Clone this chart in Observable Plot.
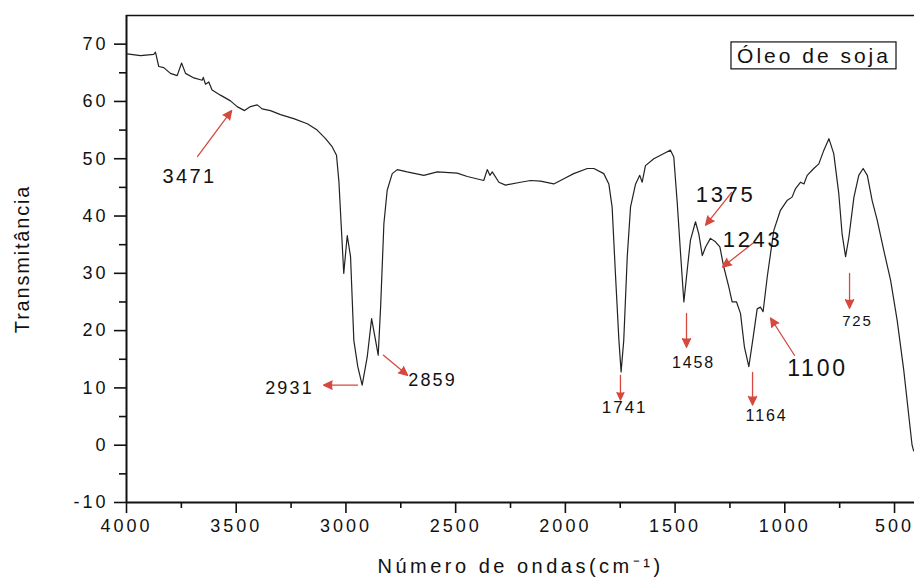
<!DOCTYPE html>
<html><head><meta charset="utf-8">
<script src="https://cdn.jsdelivr.net/npm/d3@7"></script>
<script src="https://cdn.jsdelivr.net/npm/@observablehq/plot@0.6"></script>
<style>
html,body{margin:0;padding:0;background:#fff;}
#chart svg{display:block;}
</style>
</head><body><div id="chart"></div>
<script>
// Spectrum (wavenumber in cm-1, transmittance)
const wavenumber = [3997,3936,3876,3868,3853,3830,3800,3769,3749,3731,3693,3655,3650,3640,3625,3610,3572,3526,3496,3462,3435,3404,3382,3344,3298,3238,3176,3131,3093,3063,3043,3032,3022,3010,2994,2979,2964,2946,2926,2903,2883,2865,2853,2842,2827,2812,2789,2766,2721,2645,2584,2493,2447,2372,2356,2344,2333,2303,2273,2204,2159,2113,2053,2007,1962,1900,1870,1825,1802,1787,1772,1756,1746,1734,1718,1703,1680,1661,1650,1635,1597,1551,1521,1506,1490,1475,1460,1445,1430,1407,1392,1376,1361,1339,1316,1296,1278,1255,1240,1220,1202,1184,1164,1144,1126,1111,1099,1080,1050,1020,990,967,951,928,913,898,868,845,822,799,777,754,739,723,708,685,663,643,624,602,579,549,518,488,458,436,420,413];
const transmittance = [68.3,68.0,68.2,68.6,66.1,65.9,64.9,64.5,66.7,64.9,64.1,63.7,64.2,63.0,63.4,62.0,61.1,60.1,59.1,58.4,59.1,59.4,58.7,58.4,57.7,57.0,56.1,55.0,53.5,52.1,50.6,46.0,38.7,30.0,36.6,32.9,18.3,13.7,10.5,15.4,22.1,18.3,15.7,24.1,38.7,44.5,47.4,48.1,47.7,47.1,47.7,47.5,46.9,46.2,48.1,47.1,47.7,45.9,45.4,45.9,46.2,46.1,45.6,46.5,47.4,48.3,48.3,47.4,45.6,41.6,30.0,18.3,12.8,18.3,32.9,41.6,45.6,47.1,45.9,48.8,50.0,50.9,51.5,50.3,42.2,33.4,25.0,30.5,35.8,39.0,36.9,33.1,34.6,36.1,35.5,34.6,31.1,27.6,25.0,25.0,23.0,17.1,13.7,18.9,23.8,24.1,23.3,29.4,37.5,41.0,42.7,43.3,44.8,45.9,45.6,47.1,48.3,49.1,51.5,53.5,50.9,43.9,36.9,32.9,36.3,43.3,47.1,48.3,47.1,42.7,39.3,34.0,28.8,21.8,13.1,5.5,0.0,-1.0];

// Axis ticks
const xTicks = [4000,3500,3000,2500,2000,1500,1000,500];
const xMinorTicks = [3750,3250,2750,2250,1750,1250,750];
const yTicks = [-10,0,10,20,30,40,50,60,70];
const yMinorTicks = [-5,5,15,25,35,45,55,65];

// Peak annotations (label position in data units)
const peakLabels = ["3471","2931","2859","1741","1458","1164","1100","725","1375","1243"];
const labelWn   = [3713,3257,2605,1730,1416,1083,851,669,1270,1147];
const labelT    = [46.8,9.9,11.3,6.5,14.3,5.1,13.4,21.6,43.6,35.9];
const labelSize = [20,18,18,17,16,16,23,15,22,22];
// Arrows: tail (wn1,t1) -> head (wn2,t2)
const arrowWn1 = [3676,2947,2829,1749,1448,1147,956,705,1243,1147];
const arrowT1  = [50.4,10.5,15.7,12.2,23.0,12.7,15.7,30.0,44.1,35.2];
const arrowWn2 = [3521,3102,2719,1749,1448,1147,1065,705,1361,1284];
const arrowT2  = [58.4,10.5,12.2,7.9,17.1,7.0,22.2,23.9,38.4,31.1];

// Legend box
const legendText = "Óleo de soja";
const legendWn = [1243, 491];
const legendT = [65.6, 70.3];

const xTitle = "Número de ondas(cm⁻¹)";
const yTitle = "Transmitância";

const spectrum = wavenumber.map((w, i) => ({w, t: transmittance[i]}));
const labels = peakLabels.map((text, i) => ({text, w: labelWn[i], t: labelT[i], size: labelSize[i]}));
const arrows = arrowWn1.map((w1, i) => ({w1, t1: arrowT1[i], w2: arrowWn2[i], t2: arrowT2[i]}));
const legend = [{w1: legendWn[0], w2: legendWn[1], t1: legendT[0], t2: legendT[1], text: legendText}];

const red = "#d6493f";
const font = 'Arial, "Liberation Sans", sans-serif';

const chart = Plot.plot({
  width: 914, height: 579,
  marginLeft: 126, marginRight: 0, marginTop: 15, marginBottom: 77,
  style: {fontFamily: font, background: "#fff", color: "#111", overflow: "visible"},
  x: {domain: [4000, 409]},
  y: {domain: [-10, 75]},
  marks: [
    Plot.axisX(xMinorTicks, {tickSize: 6, strokeWidth: 1.6, tickFormat: () => "", label: null}),
    Plot.axisX(xTicks, {tickSize: 11, tickPadding: 6, strokeWidth: 1.6, fontSize: 18, tickFormat: d => String(d), label: null}),
    Plot.axisY(yMinorTicks, {tickSize: 7, strokeWidth: 1.6, tickFormat: () => "", label: null}),
    Plot.axisY(yTicks, {tickSize: 12, tickPadding: 6, strokeWidth: 1.6, fontSize: 18, tickFormat: d => String(d), label: null}),
    Plot.ruleX([4000], {strokeWidth: 2, stroke: "#111"}),
    Plot.ruleY([-10], {strokeWidth: 2, stroke: "#111"}),
    Plot.ruleY([75], {strokeWidth: 1.6, stroke: "#111"}),
    Plot.line(spectrum, {x: "w", y: "t", stroke: "#222", strokeWidth: 1.2}),
    Plot.arrow(arrows, {x1: "w1", y1: "t1", x2: "w2", y2: "t2", stroke: red, fill: red, strokeWidth: 1.3, headLength: 11, headAngle: 50}),
    Plot.text(labels, {x: "w", y: "t", text: "text", fontSize: "size", fill: "#111"}),
    Plot.rect(legend, {x1: "w1", x2: "w2", y1: "t1", y2: "t2", stroke: "#111", fill: "none", strokeWidth: 1.2}),
    Plot.text(legend, {x: d => (d.w1 + d.w2) / 2, y: d => (d.t1 + d.t2) / 2, text: "text", fontSize: 21, fill: "#111"}),
    Plot.text([yTitle], {frameAnchor: "left", textAnchor: "middle", lineAnchor: "middle", dx: -104, rotate: -90, fontSize: 20, fill: "#111"}),
    Plot.text([xTitle], {frameAnchor: "bottom", textAnchor: "middle", lineAnchor: "middle", dy: 64, fontSize: 20, fill: "#111"})
  ]
});

// letter spacing to match the wide lettering of the original
const tickSet = new Set([...xTicks, ...yTicks].map(String));
d3.select(chart).selectAll("text").each(function () {
  const t = this.textContent;
  if (tickSet.has(t)) this.style.letterSpacing = "3px";
  else if (peakLabels.includes(t)) this.style.letterSpacing = "0.12em";
  else if (t === legendText) this.style.letterSpacing = "3px";
  else if (t === xTitle) this.style.letterSpacing = "3.5px";
  else if (t === yTitle) this.style.letterSpacing = "1.8px";
});
document.getElementById("chart").appendChild(chart);
</script>
</body></html>
